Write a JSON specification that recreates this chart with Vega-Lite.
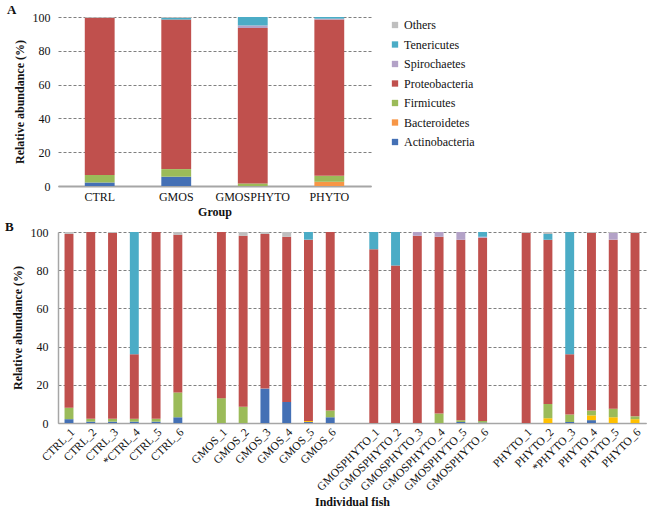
{
  "$schema": "https://vega.github.io/schema/vega-lite/v6.json",
  "padding": {"left": 5, "top": 4, "right": 2, "bottom": 2},
  "background": "white",
  "datasets": {
    "group": [
      {"sample": "CTRL", "phylum": "Actinobacteria", "value": 2},
      {"sample": "CTRL", "phylum": "Firmicutes", "value": 4.5},
      {"sample": "CTRL", "phylum": "Proteobacteria", "value": 93},
      {"sample": "CTRL", "phylum": "Others", "value": 0.5},
      {"sample": "GMOS", "phylum": "Actinobacteria", "value": 5.5},
      {"sample": "GMOS", "phylum": "Firmicutes", "value": 4.5},
      {"sample": "GMOS", "phylum": "Proteobacteria", "value": 88.5},
      {"sample": "GMOS", "phylum": "Tenericutes", "value": 1},
      {"sample": "GMOS", "phylum": "Others", "value": 0.5},
      {"sample": "GMOSPHYTO", "phylum": "Firmicutes", "value": 1.5},
      {"sample": "GMOSPHYTO", "phylum": "Proteobacteria", "value": 92},
      {"sample": "GMOSPHYTO", "phylum": "Spirochaetes", "value": 1.5},
      {"sample": "GMOSPHYTO", "phylum": "Tenericutes", "value": 5},
      {"sample": "PHYTO", "phylum": "Bacteroidetes", "value": 2.5},
      {"sample": "PHYTO", "phylum": "Firmicutes", "value": 3.5},
      {"sample": "PHYTO", "phylum": "Proteobacteria", "value": 92.5},
      {"sample": "PHYTO", "phylum": "Spirochaetes", "value": 0.5},
      {"sample": "PHYTO", "phylum": "Tenericutes", "value": 1}
    ],
    "fish": [
      {"sample": "CTRL_1", "phylum": "Actinobacteria", "value": 2},
      {"sample": "CTRL_1", "phylum": "Firmicutes", "value": 6},
      {"sample": "CTRL_1", "phylum": "Proteobacteria", "value": 91},
      {"sample": "CTRL_1", "phylum": "Others", "value": 1},
      {"sample": "CTRL_2", "phylum": "Actinobacteria", "value": 0.7},
      {"sample": "CTRL_2", "phylum": "Firmicutes", "value": 1.5},
      {"sample": "CTRL_2", "phylum": "Proteobacteria", "value": 97.8},
      {"sample": "CTRL_3", "phylum": "Actinobacteria", "value": 0.7},
      {"sample": "CTRL_3", "phylum": "Firmicutes", "value": 1.5},
      {"sample": "CTRL_3", "phylum": "Proteobacteria", "value": 97.3},
      {"sample": "CTRL_3", "phylum": "Others", "value": 0.5},
      {"sample": "*CTRL_4", "phylum": "Actinobacteria", "value": 0.7},
      {"sample": "*CTRL_4", "phylum": "Firmicutes", "value": 1.5},
      {"sample": "*CTRL_4", "phylum": "Proteobacteria", "value": 33.8},
      {"sample": "*CTRL_4", "phylum": "Tenericutes", "value": 64},
      {"sample": "CTRL_5", "phylum": "Actinobacteria", "value": 0.7},
      {"sample": "CTRL_5", "phylum": "Firmicutes", "value": 1.5},
      {"sample": "CTRL_5", "phylum": "Proteobacteria", "value": 97.8},
      {"sample": "CTRL_6", "phylum": "Actinobacteria", "value": 3},
      {"sample": "CTRL_6", "phylum": "Firmicutes", "value": 13},
      {"sample": "CTRL_6", "phylum": "Proteobacteria", "value": 82.5},
      {"sample": "CTRL_6", "phylum": "Others", "value": 1.5},
      {"sample": "GMOS_1", "phylum": "Firmicutes", "value": 13},
      {"sample": "GMOS_1", "phylum": "Proteobacteria", "value": 87},
      {"sample": "GMOS_2", "phylum": "Firmicutes", "value": 8.5},
      {"sample": "GMOS_2", "phylum": "Proteobacteria", "value": 89.5},
      {"sample": "GMOS_2", "phylum": "Others", "value": 2},
      {"sample": "GMOS_3", "phylum": "Actinobacteria", "value": 18},
      {"sample": "GMOS_3", "phylum": "Proteobacteria", "value": 81},
      {"sample": "GMOS_3", "phylum": "Others", "value": 1},
      {"sample": "GMOS_4", "phylum": "Actinobacteria", "value": 11},
      {"sample": "GMOS_4", "phylum": "Proteobacteria", "value": 86.5},
      {"sample": "GMOS_4", "phylum": "Others", "value": 2.5},
      {"sample": "GMOS_5", "phylum": "Actinobacteria", "value": 0.5},
      {"sample": "GMOS_5", "phylum": "Bacteroidetes", "value": 0.5},
      {"sample": "GMOS_5", "phylum": "Proteobacteria", "value": 95},
      {"sample": "GMOS_5", "phylum": "Tenericutes", "value": 4},
      {"sample": "GMOS_6", "phylum": "Actinobacteria", "value": 3},
      {"sample": "GMOS_6", "phylum": "Firmicutes", "value": 3.5},
      {"sample": "GMOS_6", "phylum": "Proteobacteria", "value": 93.5},
      {"sample": "GMOSPHYTO_1", "phylum": "Proteobacteria", "value": 91},
      {"sample": "GMOSPHYTO_1", "phylum": "Tenericutes", "value": 9},
      {"sample": "GMOSPHYTO_2", "phylum": "Proteobacteria", "value": 82.5},
      {"sample": "GMOSPHYTO_2", "phylum": "Tenericutes", "value": 17.5},
      {"sample": "GMOSPHYTO_3", "phylum": "Proteobacteria", "value": 98},
      {"sample": "GMOSPHYTO_3", "phylum": "Spirochaetes", "value": 2},
      {"sample": "GMOSPHYTO_4", "phylum": "Firmicutes", "value": 5},
      {"sample": "GMOSPHYTO_4", "phylum": "Proteobacteria", "value": 92.5},
      {"sample": "GMOSPHYTO_4", "phylum": "Spirochaetes", "value": 2.5},
      {"sample": "GMOSPHYTO_5", "phylum": "Actinobacteria", "value": 0.5},
      {"sample": "GMOSPHYTO_5", "phylum": "Firmicutes", "value": 1},
      {"sample": "GMOSPHYTO_5", "phylum": "Proteobacteria", "value": 94.5},
      {"sample": "GMOSPHYTO_5", "phylum": "Spirochaetes", "value": 4},
      {"sample": "GMOSPHYTO_6", "phylum": "Actinobacteria", "value": 0.3},
      {"sample": "GMOSPHYTO_6", "phylum": "Firmicutes", "value": 0.7},
      {"sample": "GMOSPHYTO_6", "phylum": "Proteobacteria", "value": 96},
      {"sample": "GMOSPHYTO_6", "phylum": "Spirochaetes", "value": 0.5},
      {"sample": "GMOSPHYTO_6", "phylum": "Tenericutes", "value": 2.5},
      {"sample": "PHYTO_1", "phylum": "Proteobacteria", "value": 99.5},
      {"sample": "PHYTO_1", "phylum": "Others", "value": 0.5},
      {"sample": "PHYTO_2", "phylum": "Bacteroidetes", "value": 2.5},
      {"sample": "PHYTO_2", "phylum": "Firmicutes", "value": 7.5},
      {"sample": "PHYTO_2", "phylum": "Proteobacteria", "value": 86},
      {"sample": "PHYTO_2", "phylum": "Tenericutes", "value": 3},
      {"sample": "PHYTO_2", "phylum": "Others", "value": 1},
      {"sample": "*PHYTO_3", "phylum": "Actinobacteria", "value": 0.5},
      {"sample": "*PHYTO_3", "phylum": "Firmicutes", "value": 4},
      {"sample": "*PHYTO_3", "phylum": "Proteobacteria", "value": 31.5},
      {"sample": "*PHYTO_3", "phylum": "Tenericutes", "value": 64},
      {"sample": "PHYTO_4", "phylum": "Actinobacteria", "value": 1.5},
      {"sample": "PHYTO_4", "phylum": "Bacteroidetes", "value": 2.5},
      {"sample": "PHYTO_4", "phylum": "Firmicutes", "value": 2.5},
      {"sample": "PHYTO_4", "phylum": "Proteobacteria", "value": 93},
      {"sample": "PHYTO_4", "phylum": "Others", "value": 0.5},
      {"sample": "PHYTO_5", "phylum": "Bacteroidetes", "value": 3},
      {"sample": "PHYTO_5", "phylum": "Firmicutes", "value": 4.5},
      {"sample": "PHYTO_5", "phylum": "Proteobacteria", "value": 88.5},
      {"sample": "PHYTO_5", "phylum": "Spirochaetes", "value": 3.5},
      {"sample": "PHYTO_5", "phylum": "Others", "value": 0.5},
      {"sample": "PHYTO_6", "phylum": "Bacteroidetes", "value": 2},
      {"sample": "PHYTO_6", "phylum": "Firmicutes", "value": 1.5},
      {"sample": "PHYTO_6", "phylum": "Proteobacteria", "value": 96},
      {"sample": "PHYTO_6", "phylum": "Others", "value": 0.5}
    ]
  },
  "config": {
    "font": "Liberation Serif",
    "view": {"stroke": null},
    "axis": {
      "labelFont": "Liberation Serif",
      "titleFont": "Liberation Serif",
      "labelColor": "#111",
      "titleColor": "#111",
      "labelFontSize": 12,
      "titleFontSize": 12,
      "titleFontWeight": "bold",
      "gridColor": "#7f7f7f",
      "gridDash": [3, 2],
      "gridWidth": 1,
      "domainColor": "#a6a6a6",
      "domainWidth": 1.5,
      "ticks": false
    },
    "legend": {"labelFont": "Liberation Serif", "labelFontSize": 12, "labelColor": "#111"},
    "title": {"font": "Liberation Serif", "fontSize": 13, "fontWeight": "bold", "anchor": "start", "color": "#111"}
  },
  "resolve": {"scale": {"color": "independent"}},
  "spacing": 4,
  "vconcat": [
    {
      "title": {"text": "A", "offset": -6, "dx": -6},
      "width": 313,
      "height": 169,
      "data": {"name": "group"},
      "transform": [
        {"calculate": "indexof(['Actinobacteria','Bacteroidetes','Firmicutes','Proteobacteria','Spirochaetes','Tenericutes','Others'], datum.phylum)", "as": "stackorder"}
      ],
      "mark": {"type": "bar"},
      "encoding": {
        "x": {
          "field": "sample", "type": "nominal",
          "scale": {"domain": ["CTRL", "GMOS", "GMOSPHYTO", "PHYTO"], "paddingInner": 0.61, "paddingOuter": 0.35},
          "axis": {"labelAngle": 0, "title": "Group", "labelPadding": 5, "titlePadding": 4, "domainWidth": 2}
        },
        "y": {
          "field": "value", "type": "quantitative", "stack": "zero",
          "scale": {"domain": [0, 100], "nice": false},
          "axis": {"values": [0, 20, 40, 60, 80, 100], "title": "Relative abundance (%)", "domain": false, "labelPadding": 8, "titlePadding": 6}
        },
        "order": {"field": "stackorder", "type": "quantitative", "sort": "ascending"},
        "color": {
          "field": "phylum", "type": "nominal",
          "scale": {
            "domain": ["Others", "Tenericutes", "Spirochaetes", "Proteobacteria", "Firmicutes", "Bacteroidetes", "Actinobacteria"],
            "range": ["#bfbfbf", "#4bacc6", "#b3a2c7", "#c0504d", "#9bbb59", "#f79646", "#4470b5"]
          },
          "legend": {
            "title": null,
            "symbolType": "square",
            "symbolSize": 40,
            "symbolStrokeWidth": 0,
            "rowPadding": 7.5,
            "labelOffset": 3,
            "offset": 16,
            "padding": 2
          }
        }
      }
    },
    {
      "title": {"text": "B", "offset": -8, "dx": -6},
      "width": 588,
      "height": 191,
      "data": {"name": "fish"},
      "transform": [
        {"calculate": "indexof(['Actinobacteria','Bacteroidetes','Firmicutes','Proteobacteria','Spirochaetes','Tenericutes','Others'], datum.phylum)", "as": "stackorder"}
      ],
      "mark": {"type": "bar"},
      "encoding": {
        "x": {
          "field": "sample", "type": "nominal",
          "scale": {
            "domain": ["CTRL_1", "CTRL_2", "CTRL_3", "*CTRL_4", "CTRL_5", "CTRL_6", "gap1",
                       "GMOS_1", "GMOS_2", "GMOS_3", "GMOS_4", "GMOS_5", "GMOS_6", "gap2",
                       "GMOSPHYTO_1", "GMOSPHYTO_2", "GMOSPHYTO_3", "GMOSPHYTO_4", "GMOSPHYTO_5", "GMOSPHYTO_6", "gap3",
                       "PHYTO_1", "PHYTO_2", "*PHYTO_3", "PHYTO_4", "PHYTO_5", "PHYTO_6"],
            "paddingInner": 0.59, "paddingOuter": 0.3
          },
          "axis": {
            "labelAngle": -45, "labelFontSize": 11.5, "title": "Individual fish",
            "labelExpr": "indexof(datum.value, 'gap') == 0 ? '' : datum.value",
            "labelPadding": 3, "titlePadding": 4
          }
        },
        "y": {
          "field": "value", "type": "quantitative", "stack": "zero",
          "scale": {"domain": [0, 100], "nice": false},
          "axis": {"values": [0, 20, 40, 60, 80, 100], "title": "Relative abundance (%)", "labelPadding": 10, "titlePadding": 6}
        },
        "order": {"field": "stackorder", "type": "quantitative", "sort": "ascending"},
        "color": {
          "field": "phylum", "type": "nominal",
          "scale": {
            "domain": ["Others", "Tenericutes", "Spirochaetes", "Proteobacteria", "Firmicutes", "Bacteroidetes", "Actinobacteria"],
            "range": ["#bfbfbf", "#4bacc6", "#b3a2c7", "#c0504d", "#9bbb59", "#ffc000", "#4470b5"]
          },
          "legend": null
        }
      }
    }
  ]
}
